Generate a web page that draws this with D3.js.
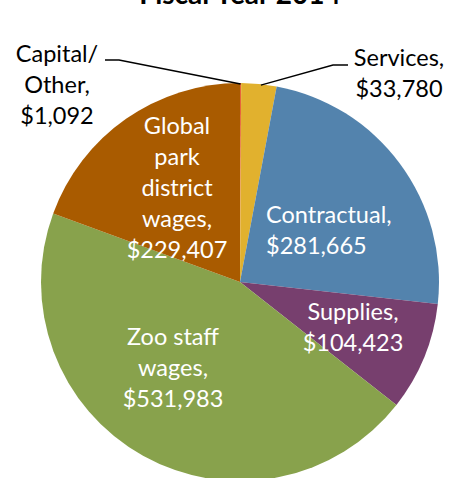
<!DOCTYPE html>
<html>
<head>
<meta charset="utf-8">
<script src="https://cdn.jsdelivr.net/npm/d3@7"></script>
<style>
  body { margin: 0; background: #fff; }
  svg text { font-family: Lato, "Open Sans", sans-serif; }
</style>
</head>
<body>
<div id="chart"></div>
<script>
// Fiscal Year 2014 spending
var categories = ["Capital/ Other", "Services", "Contractual", "Supplies", "Zoo staff wages", "Global park district wages"];
var values = [1092, 33780, 281665, 104423, 531983, 229407];

var colors = ["#E8643C", "#E1B12E", "#5383AD", "#773F6E", "#88A24C", "#A95B00"];

var svgWidth = 451;
var svgHeight = 478;

var cx = 240, cy = 282, radius = 199;

var svg = d3.select("#chart")
  .append("svg")
  .attr("width", svgWidth)
  .attr("height", svgHeight);

// title (cut off at top like the original)
svg.append("text")
  .attr("x", 240)
  .attr("y", 4)
  .attr("text-anchor", "middle")
  .attr("font-size", "28px")
  .attr("font-weight", "bold")
  .text("Fiscal Year 2014");

var data = categories.map(function(c, i) { return {name: c, value: values[i], color: colors[i]}; });

var pie = d3.pie().sort(null).value(d => d.value);
var arc = d3.arc().innerRadius(0).outerRadius(radius);

var pieGroup = svg.append("g")
  .attr("transform", `translate(${cx}, ${cy})`);

pieGroup.selectAll("path")
  .data(pie(data))
  .enter()
  .append("path")
  .attr("d", arc)
  .attr("fill", d => d.data.color);

// label layout: lines, anchor position, alignment, colour
var fmt = d3.format("$,");
var labels = [
  {lines: ["Capital/", "Other,"], x: 57, y: 62, anchor: "middle", fill: "#000"},
  {lines: ["Services,"], x: 399, y: 66, anchor: "middle", fill: "#000"},
  {lines: ["Contractual,"], x: 266, y: 223, anchor: "start", fill: "#fff"},
  {lines: ["Supplies,"], x: 353, y: 320, anchor: "middle", fill: "#fff"},
  {lines: ["Zoo staff", "wages,"], x: 173, y: 345, anchor: "middle", fill: "#fff"},
  {lines: ["Global", "park", "district", "wages,"], x: 177, y: 134, anchor: "middle", fill: "#fff"}
];

var lineH = 31;
labels.forEach(function(l, i) {
  var t = svg.append("text")
    .attr("text-anchor", l.anchor)
    .attr("font-size", "23.5px")
    .attr("fill", l.fill);
  l.lines.concat([fmt(values[i])]).forEach(function(s, j) {
    t.append("tspan")
      .attr("x", l.x)
      .attr("y", l.y + j * lineH)
      .text(s);
  });
});

// leader lines for the two small slices
var leader = d3.line();
var arcs = pie(data);
var capAngle = (arcs[0].startAngle + arcs[0].endAngle) / 2;
var svcAngle = (arcs[1].startAngle + arcs[1].endAngle) / 2;
function edge(a, dr) { return [cx + Math.sin(a) * (radius - dr), cy - Math.cos(a) * (radius - dr)]; }

svg.append("path")
  .attr("d", leader([[105, 60], [119, 60], edge(capAngle, 1)]))
  .attr("fill", "none")
  .attr("stroke", "#000")
  .attr("stroke-width", 1.5);

svg.append("path")
  .attr("d", leader([edge(svcAngle + 0.01, 1), [333, 65], [348, 65]]))
  .attr("fill", "none")
  .attr("stroke", "#000")
  .attr("stroke-width", 1.5);
</script>
</body>
</html>
